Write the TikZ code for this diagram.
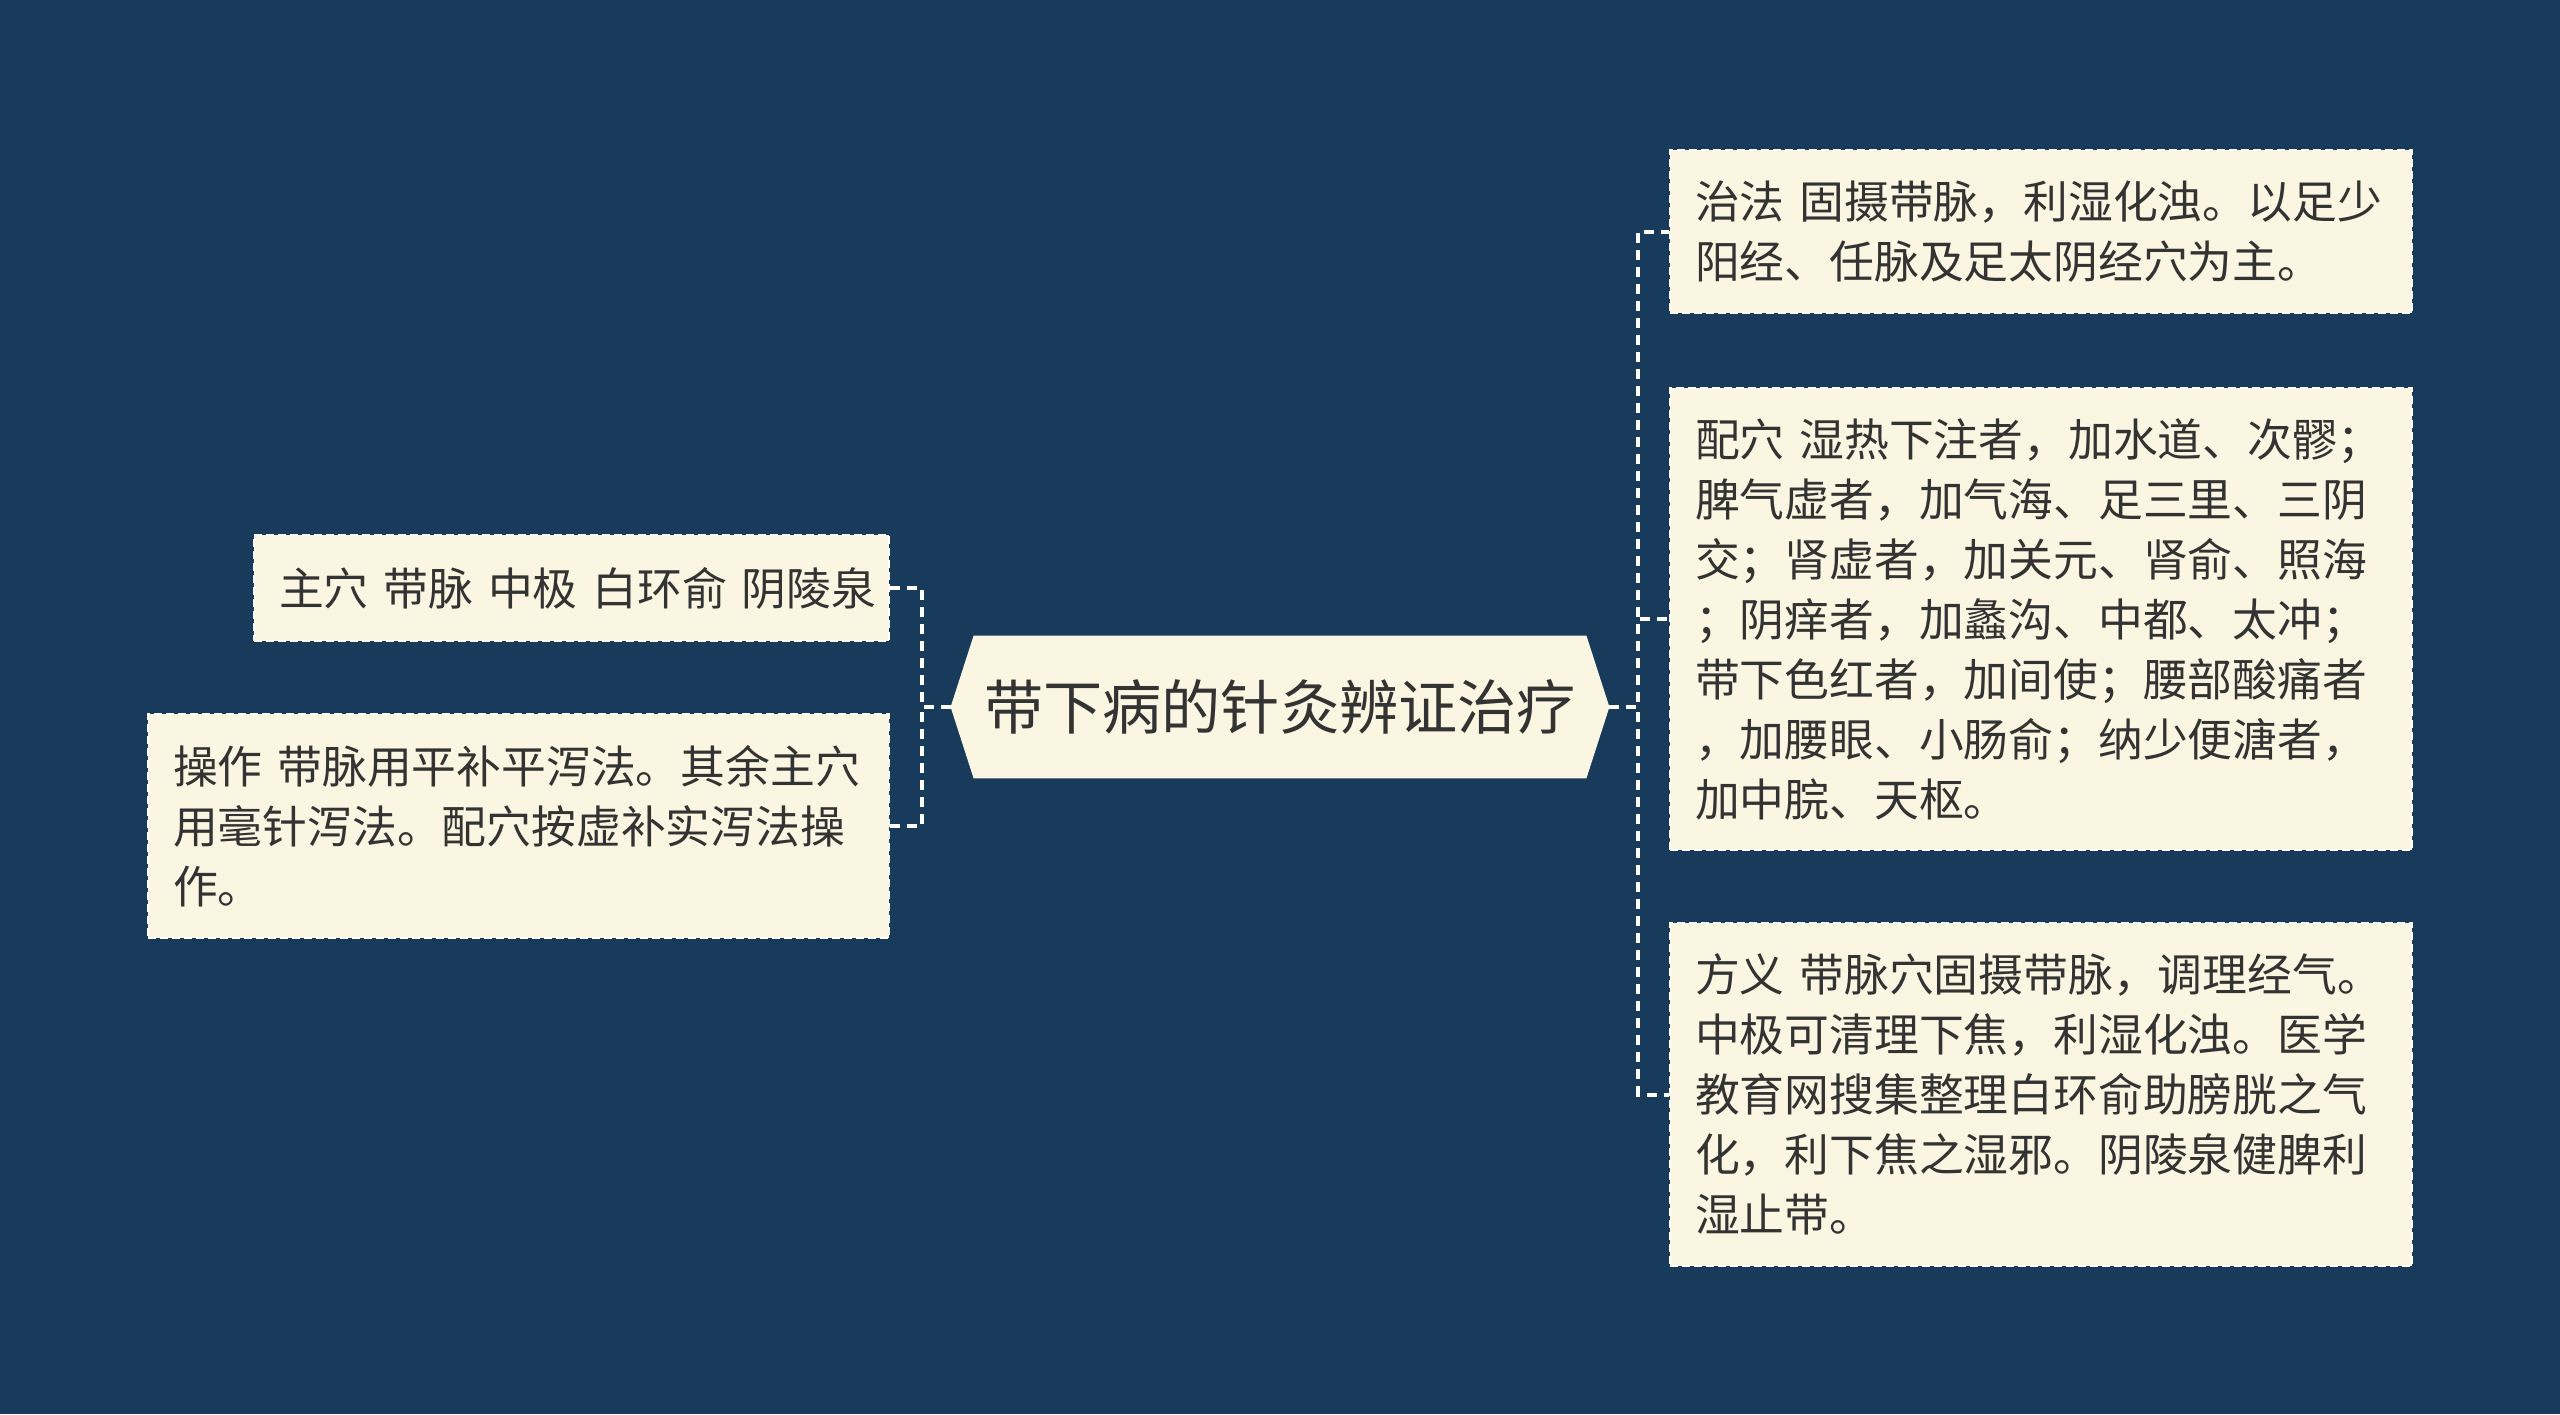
\documentclass[tikz,border=0pt]{standalone}
\usepackage{fontspec}
\newfontfamily\cjk{Noto Sans CJK SC}
\usetikzlibrary{positioning}
\usetikzlibrary{backgrounds}
\definecolor{bgblue}{HTML}{183B5C}
\definecolor{cream}{HTML}{FBF6E2}
\definecolor{ink}{HTML}{333333}

\begin{document}
\begin{tikzpicture}[x=0.5pt,y=-0.5pt]
\tikzset{leaf/.style={rectangle, fill=cream, draw=white, line width=1pt, dash pattern=on 4pt off 2pt,
  text=ink, align=left, inner xsep=12.5pt, inner ysep=0pt, anchor=north west,
  font=\cjk\fontsize{22.4pt}{30pt}\selectfont}}
\tikzset{link/.style={draw=white, line width=2pt, dash pattern=on 5pt off 3.5pt}}
\useasboundingbox (0,0) rectangle (2560,1414);

\node[text=ink, inner sep=0pt, minimum width=329pt, minimum height=71pt,
  font=\cjk\fontsize{29.6pt}{36pt}\selectfont] (topic) at (1280,707) {带下病的针灸辨证治疗};

% left side
\node[leaf, text width=292.5pt, minimum height=53pt] (zhuxue) at (253,534) {\mbox{主穴 带脉 中极 白环俞 阴陵泉}};
\node[leaf, text width=345.5pt, minimum height=112pt] (caozuo) at (147,713) {操作 带脉用平补平泻法。其余主穴\\用毫针泻法。配穴按虚补实泻法操\\作。};

% right side
\node[leaf, text width=346pt, minimum height=81.5pt] (zhifa) at (1669,149) {治法 固摄带脉，利湿化浊。以足少\\阳经、任脉及足太阴经穴为主。};
\node[leaf, text width=346pt, minimum height=231pt] (peixue) at (1669,387) {配穴 湿热下注者，加水道、次髎；\\脾气虚者，加气海、足三里、三阴\\交；肾虚者，加关元、肾俞、照海\\；阴痒者，加蠡沟、中都、太冲；\\带下色红者，加间使；腰部酸痛者\\，加腰眼、小肠俞；纳少便溏者，\\加中脘、天枢。};
\node[leaf, text width=346pt, minimum height=171.5pt] (fangyi) at (1669,922) {方义 带脉穴固摄带脉，调理经气。\\中极可清理下焦，利湿化浊。医学\\教育网搜集整理白环俞助膀胱之气\\化，利下焦之湿邪。阴陵泉健脾利\\湿止带。};

\draw[link] (topic.west) -- ++(-29,0) |- (zhuxue.east);
\draw[link] (topic.west) -- ++(-29,0) |- (caozuo.east);
\draw[link] (topic.east) -- ++(29,0) |- (zhifa.west);
\draw[link] (topic.east) -- ++(29,0) |- (peixue.west);
\draw[link] (topic.east) -- ++(29,0) |- (fangyi.west);

\begin{scope}[on background layer]
\fill[bgblue] (0,0) rectangle (2560,1414);
\fill[cream] ([xshift=11.5pt]topic.north west) -- ([xshift=-11.5pt]topic.north east) -- (topic.east)
  -- ([xshift=-11.5pt]topic.south east) -- ([xshift=11.5pt]topic.south west) -- (topic.west) -- cycle;
\end{scope}

\end{tikzpicture}
\end{document}
